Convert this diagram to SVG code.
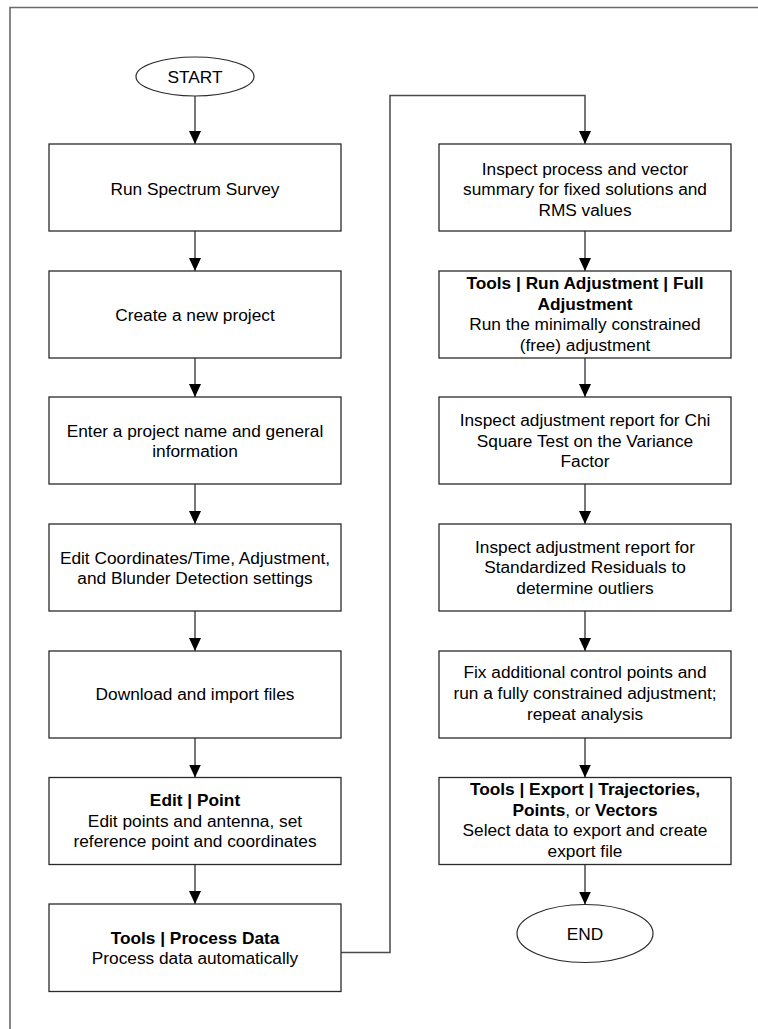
<svg xmlns="http://www.w3.org/2000/svg" width="758" height="1029" viewBox="0 0 758 1029">
<style>
  .box { fill: #ffffff; stroke: #2a2a2a; stroke-width: 1.3; }
  .term { fill: #ffffff; stroke: #2a2a2a; stroke-width: 1.2; }
  .conn { fill: none; stroke: #4a4a4a; stroke-width: 1.5; }
  .frame { fill: none; stroke: #6a6a6a; stroke-width: 1.6; }
  text { font-family: "Liberation Sans", Arial, sans-serif; font-size: 17.3px; fill: #000; text-anchor: middle; }
  .b { font-weight: bold; }
</style>
<defs>
  <marker id="arr" markerUnits="userSpaceOnUse" markerWidth="12" markerHeight="14" viewBox="0 0 12 14" refX="6" refY="13" orient="auto-start-reverse">
    <path d="M0,0 L12,0 L6,13 Z" fill="#000"/>
  </marker>
  <marker id="arrd" markerUnits="userSpaceOnUse" markerWidth="12" markerHeight="14" viewBox="0 0 12 14" refX="6" refY="13" orient="0">
    <path d="M0,0 L12,0 L6,13 Z" fill="#000"/>
  </marker>
</defs>
<path class="frame" d="M10,1029 V7.5 H758"/>
<g id="connectors">
  <line class="conn" x1="195" y1="96" x2="195" y2="144" marker-end="url(#arrd)"/>
  <line class="conn" x1="195" y1="231" x2="195" y2="271" marker-end="url(#arrd)"/>
  <line class="conn" x1="195" y1="358" x2="195" y2="397" marker-end="url(#arrd)"/>
  <line class="conn" x1="195" y1="484" x2="195" y2="524" marker-end="url(#arrd)"/>
  <line class="conn" x1="195" y1="611" x2="195" y2="651" marker-end="url(#arrd)"/>
  <line class="conn" x1="195" y1="738" x2="195" y2="777.5" marker-end="url(#arrd)"/>
  <line class="conn" x1="195" y1="864.5" x2="195" y2="904" marker-end="url(#arrd)"/>
  <polyline class="conn" points="341,952.5 390,952.5 390,95.5 585,95.5 585,144" marker-end="url(#arrd)"/>
  <line class="conn" x1="585" y1="231" x2="585" y2="271" marker-end="url(#arrd)"/>
  <line class="conn" x1="585" y1="358" x2="585" y2="397" marker-end="url(#arrd)"/>
  <line class="conn" x1="585" y1="484" x2="585" y2="524" marker-end="url(#arrd)"/>
  <line class="conn" x1="585" y1="611" x2="585" y2="651" marker-end="url(#arrd)"/>
  <line class="conn" x1="585" y1="738" x2="585" y2="777.5" marker-end="url(#arrd)"/>
  <line class="conn" x1="585" y1="864.5" x2="585" y2="904.5" marker-end="url(#arrd)"/>
</g>
<g id="start">
  <ellipse class="term" cx="195" cy="76.5" rx="59" ry="19.5"/>
  <text x="195" y="82.5">START</text>
</g>
<g id="n1">
  <rect class="box" x="49" y="144" width="292" height="87"/>
  <text x="195" y="194.5">Run Spectrum Survey</text>
</g>
<g id="n2">
  <rect class="box" x="49" y="271" width="292" height="87"/>
  <text x="195" y="321">Create a new project</text>
</g>
<g id="n3">
  <rect class="box" x="49" y="397" width="292" height="87"/>
  <text x="195" y="436.5">Enter a project name and general</text>
  <text x="195" y="457">information</text>
</g>
<g id="n4">
  <rect class="box" x="49" y="524" width="292" height="87"/>
  <text x="195" y="563.5">Edit Coordinates/Time, Adjustment,</text>
  <text x="195" y="584">and Blunder Detection settings</text>
</g>
<g id="n5">
  <rect class="box" x="49" y="651" width="292" height="87"/>
  <text x="195" y="700">Download and import files</text>
</g>
<g id="n6">
  <rect class="box" x="49" y="777.5" width="292" height="87"/>
  <text x="195" y="806" class="b">Edit | Point</text>
  <text x="195" y="826.5">Edit points and antenna, set</text>
  <text x="195" y="847">reference point and coordinates</text>
</g>
<g id="n7">
  <rect class="box" x="49" y="904" width="292" height="87.5"/>
  <text x="195" y="943.5" class="b">Tools | Process Data</text>
  <text x="195" y="964">Process data automatically</text>
</g>
<g id="r1">
  <rect class="box" x="439" y="144" width="292" height="87"/>
  <text x="585" y="174.5">Inspect process and vector</text>
  <text x="585" y="195">summary for fixed solutions and</text>
  <text x="585" y="215.5">RMS values</text>
</g>
<g id="r2">
  <rect class="box" x="439" y="271" width="292" height="87"/>
  <text x="585" y="289" class="b">Tools | Run Adjustment | Full</text>
  <text x="585" y="309.5" class="b">Adjustment</text>
  <text x="585" y="330">Run the minimally constrained</text>
  <text x="585" y="350.5">(free) adjustment</text>
</g>
<g id="r3">
  <rect class="box" x="439" y="397" width="292" height="87"/>
  <text x="585" y="426">Inspect adjustment report for Chi</text>
  <text x="585" y="446.5">Square Test on the Variance</text>
  <text x="585" y="467">Factor</text>
</g>
<g id="r4">
  <rect class="box" x="439" y="524" width="292" height="87"/>
  <text x="585" y="552.5">Inspect adjustment report for</text>
  <text x="585" y="573">Standardized Residuals to</text>
  <text x="585" y="593.5">determine outliers</text>
</g>
<g id="r5">
  <rect class="box" x="439" y="651" width="292" height="87"/>
  <text x="585" y="678">Fix additional control points and</text>
  <text x="585" y="699">run a fully constrained adjustment;</text>
  <text x="585" y="720">repeat analysis</text>
</g>
<g id="r6">
  <rect class="box" x="439" y="777.5" width="292" height="87"/>
  <text x="585" y="795" class="b">Tools | Export | Trajectories,</text>
  <text x="585" y="815.5"><tspan class="b">Points</tspan>, or <tspan class="b">Vectors</tspan></text>
  <text x="585" y="836">Select data to export and create</text>
  <text x="585" y="856.5">export file</text>
</g>
<g id="end">
  <ellipse class="term" cx="585" cy="933.5" rx="68" ry="29"/>
  <text x="585" y="939.5">END</text>
</g>
</svg>
